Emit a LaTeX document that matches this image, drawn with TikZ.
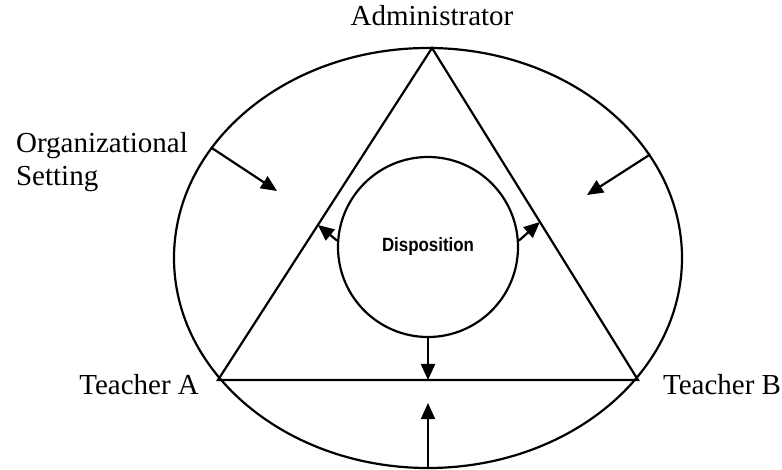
\documentclass[tikz,border=0pt]{standalone}
\usepackage{fontspec}
\setmainfont{Liberation Serif}
\newfontfamily\dispfont{Liberation Sans}
\usetikzlibrary{shapes.geometric, calc, arrows.meta, positioning}

\begin{document}
\begin{tikzpicture}[
    x=0.5pt, y=-0.5pt, line width=1.1pt,
    arrowstyle/.style={draw, -{Triangle[length=8pt, width=7pt]}},
    setting/.style={ellipse, draw, minimum width=254pt, minimum height=210pt,
        inner sep=0pt},
    disposition/.style={circle, draw, minimum size=90pt, inner sep=0pt,
        font=\dispfont\bfseries\fontsize{9.6}{11}\selectfont},
    role/.style={inner sep=0pt, font=\fontsize{14.5}{16.5}\selectfont},
    side/.style={role, align=left, anchor=north west}
]
\useasboundingbox (0,0) rectangle (782,470);

% setting and the three roles
\node (Setting) [setting] at (428,258) {};
\coordinate (Admin) at (432,48);
\coordinate (TeachA) at (218,380);
\coordinate (TeachB) at (638,380);
\draw (Admin) -- (TeachA) -- (TeachB) -- cycle;

\node (Disp) [disposition] at (428,247) {\scalebox{0.88}[1]{Disposition}};

\node (AdminLabel) [role, above=10.5pt of Admin] {Administrator};
\node (TeachALabel) [role, left=9pt of TeachA, yshift=-2.5pt] {Teacher A};
\node (TeachBLabel) [role, right=12pt of TeachB, yshift=-2.5pt] {Teacher B};
\node (SettingLabel) [side] at (15,131) {Organizational\\Setting};

% arrows
\coordinate (LeftHit) at ($(Admin)!0.533!(TeachA)$);
\coordinate (RightHit) at ($(Admin)!0.524!(TeachB)$);
\coordinate (BaseMid) at ($(TeachA)!0.5!(TeachB)$);
\coordinate (LeftIn) at (277,191);
\coordinate (RightIn) at (587,195);
\coordinate (BottomIn) at (428,403);

\draw[arrowstyle] (Disp.176) -- (LeftHit);
\draw[arrowstyle] (Disp.4) -- (RightHit);
\draw[arrowstyle] (Disp.south) -- (BaseMid);
\draw[arrowstyle] (Setting.153) -- (LeftIn);
\draw[arrowstyle] (Setting.25) -- (RightIn);
\draw[arrowstyle] (Setting.south) -- (BottomIn);

\end{tikzpicture}
\end{document}
